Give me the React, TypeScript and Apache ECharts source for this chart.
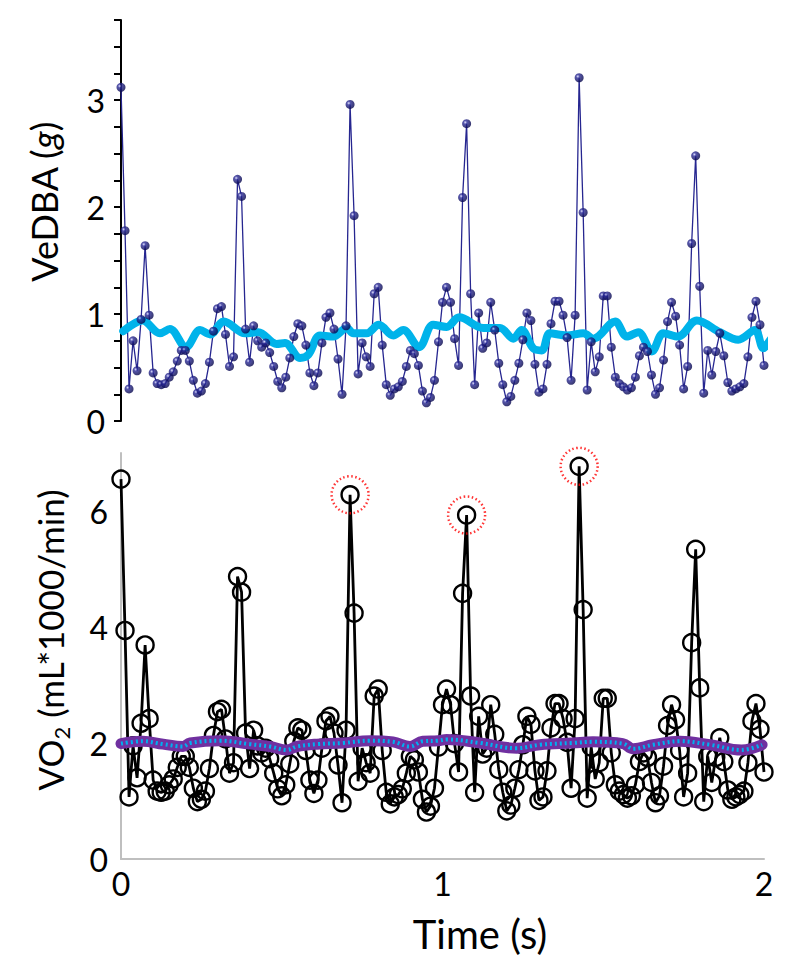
import React, { useEffect, useRef } from "react";
import * as echarts from "echarts";

const SAMPLE_RATE_HZ = 80;
const X_TICK_LABELS = ["0", "1", "2"];

const VEDBA = [
  3.12, 1.78, 0.30, 0.75, 0.47, 0.95, 1.64, 0.99, 0.45, 0.35,
  0.34, 0.35, 0.41, 0.46, 0.56, 0.66, 0.66, 0.56, 0.38, 0.26,
  0.28, 0.35, 0.55, 0.84, 1.05, 1.07, 0.81, 0.51, 0.60, 2.26,
  2.10, 0.86, 0.55, 0.89, 0.75, 0.69, 0.73, 0.64, 0.51, 0.37,
  0.31, 0.41, 0.59, 0.79, 0.91, 0.89, 0.71, 0.45, 0.33, 0.45,
  0.73, 0.97, 1.01, 0.86, 0.58, 0.25, 0.89, 2.96, 1.92, 0.44,
  0.73, 0.60, 0.51, 1.19, 1.25, 0.71, 0.34, 0.24, 0.30, 0.32,
  0.37, 0.51, 0.66, 0.63, 0.52, 0.28, 0.17, 0.22, 0.38, 0.74,
  1.11, 1.25, 1.11, 0.77, 0.52, 2.09, 2.78, 1.19, 0.34, 1.01,
  0.68, 0.73, 1.11, 0.85, 0.54, 0.34, 0.18, 0.23, 0.38, 0.54,
  0.76, 1.01, 0.94, 0.53, 0.27, 0.30, 0.53, 0.91, 1.12, 1.12,
  0.99, 0.78, 0.38, 0.99, 3.21, 1.95, 0.29, 0.74, 0.46, 0.60,
  1.17, 1.17, 0.69, 0.41, 0.35, 0.32, 0.29, 0.31, 0.41, 0.61,
  0.69, 0.65, 0.43, 0.25, 0.31, 0.57, 0.93, 1.11, 0.98, 0.71,
  0.30, 0.51, 1.66, 2.48, 1.26, 0.26, 0.66, 0.43, 0.65, 0.82,
  0.61, 0.36, 0.28, 0.30, 0.32, 0.35, 0.60, 0.97, 1.12, 0.90,
  0.52,
];

const VO2 = [
  6.55, 3.94, 1.07, 1.95, 1.40, 2.34, 3.69, 2.42, 1.36, 1.17,
  1.15, 1.17, 1.28, 1.38, 1.58, 1.77, 1.77, 1.58, 1.22, 0.99,
  1.03, 1.17, 1.56, 2.13, 2.54, 2.58, 2.07, 1.48, 1.66, 4.87,
  4.60, 2.17, 1.56, 2.22, 1.95, 1.83, 1.91, 1.73, 1.48, 1.21,
  1.09, 1.28, 1.64, 2.03, 2.26, 2.22, 1.87, 1.36, 1.13, 1.36,
  1.91, 2.38, 2.46, 2.17, 1.62, 0.97, 2.22, 6.28, 4.24, 1.34,
  1.91, 1.66, 1.48, 2.81, 2.93, 1.87, 1.15, 0.95, 1.07, 1.11,
  1.21, 1.48, 1.77, 1.71, 1.50, 1.03, 0.81, 0.91, 1.22, 1.93,
  2.66, 2.93, 2.66, 1.99, 1.50, 4.58, 5.93, 2.81, 1.15, 2.46,
  1.81, 1.91, 2.66, 2.15, 1.54, 1.15, 0.83, 0.93, 1.22, 1.54,
  1.97, 2.46, 2.32, 1.52, 1.01, 1.07, 1.52, 2.26, 2.68, 2.68,
  2.42, 2.01, 1.22, 2.42, 6.77, 4.30, 1.05, 1.93, 1.38, 1.66,
  2.77, 2.77, 1.83, 1.28, 1.17, 1.11, 1.05, 1.09, 1.28, 1.68,
  1.83, 1.75, 1.32, 0.97, 1.09, 1.60, 2.30, 2.66, 2.40, 1.87,
  1.07, 1.48, 3.73, 5.34, 2.95, 0.99, 1.77, 1.32, 1.75, 2.09,
  1.68, 1.19, 1.03, 1.07, 1.11, 1.17, 1.66, 2.38, 2.68, 2.24,
  1.50,
];

const VEDBA_SMOOTH_T = [
  0.007, 0.067, 0.121, 0.152, 0.202, 0.246, 0.277, 0.320, 0.386, 0.427,
  0.484, 0.510, 0.557, 0.583, 0.619, 0.660, 0.702, 0.723, 0.764, 0.802,
  0.847, 0.878, 0.927, 0.971, 1.013, 1.052, 1.127, 1.179, 1.220, 1.246,
  1.282, 1.309, 1.334, 1.386, 1.438, 1.469, 1.537, 1.573, 1.609, 1.651,
  1.687, 1.733, 1.791, 1.863, 1.920, 1.972, 1.998, 2.029, 2.050,
];
const VEDBA_SMOOTH_V = [
  0.84, 0.94, 0.82, 0.86, 0.69, 0.85, 0.81, 0.93, 0.82, 0.83,
  0.72, 0.73, 0.59, 0.62, 0.80, 0.79, 0.87, 0.82, 0.82, 0.90,
  0.80, 0.85, 0.69, 0.90, 0.88, 0.97, 0.87, 0.87, 0.77, 0.85,
  0.68, 0.66, 0.82, 0.80, 0.82, 0.77, 0.93, 0.79, 0.83, 0.65,
  0.82, 0.79, 0.94, 0.83, 0.76, 0.85, 0.68, 0.79, 0.80,
];

const VO2_SMOOTH_T = [
  0.000, 0.068, 0.131, 0.193, 0.215, 0.308, 0.401, 0.463, 0.516, 0.547,
  0.610, 0.691, 0.774, 0.846, 0.899, 0.939, 0.986, 1.013, 1.117, 1.231,
  1.303, 1.405, 1.468, 1.561, 1.593, 1.655, 1.739, 1.832, 1.930, 1.994,
];
const VO2_SMOOTH_V = [
  1.99, 2.03, 1.98, 1.94, 2.00, 2.04, 1.98, 1.94, 1.88, 1.94,
  1.98, 2.00, 2.04, 2.02, 1.94, 2.03, 2.04, 2.06, 2.00, 1.91,
  1.97, 2.00, 2.02, 1.99, 1.90, 1.97, 2.03, 1.97, 1.88, 1.97,
];

const PEAK_INDEX = [57, 86, 114];

const FONT = "Lato, 'Open Sans', sans-serif";

export default function App() {
  const ref = useRef<HTMLDivElement>(null);

  useEffect(() => {
    document.body.style.margin = "0";
    if (!ref.current) return;
    const chart = echarts.init(ref.current, undefined, { renderer: "svg" });

    const t = (i: number) => i / SAMPLE_RATE_HZ;
    const vedbaPts = VEDBA.map((v, i) => [t(i), v]);
    const vo2Pts = VO2.map((v, i) => [t(i), v]);
    const vedbaSmooth = VEDBA_SMOOTH_T.map((x, i) => [x, VEDBA_SMOOTH_V[i]]);
    const vo2Smooth = VO2_SMOOTH_T.map((x, i) => [x, VO2_SMOOTH_V[i]]);
    const peaks = PEAK_INDEX.map((i) => [t(i), VO2[i]]);

    const ball = new echarts.graphic.RadialGradient(0.35, 0.35, 0.65, [
      { offset: 0, color: "#d8d8ff" },
      { offset: 0.3, color: "#2a2a96" },
      { offset: 1, color: "#08084e" },
    ]);

    chart.setOption({
      animation: false,
      backgroundColor: "#ffffff",
      textStyle: { fontFamily: FONT },
      grid: [
        { left: 121, top: 20, width: 643, height: 401 },
        { left: 121, top: 453, width: 643, height: 406 },
      ],
      xAxis: [
        { gridIndex: 0, type: "value", min: 0, max: 2, show: false },
        {
          gridIndex: 1,
          type: "value",
          min: 0,
          max: 2,
          interval: 1,
          axisLine: { show: true, lineStyle: { color: "#bfbfbf", width: 2 } },
          axisTick: { show: false },
          splitLine: { show: false },
          axisLabel: {
            fontSize: 32,
            color: "#000",
            margin: 8,
            fontFamily: FONT,
            formatter: (v: number) => X_TICK_LABELS[Math.round(v)] ?? "",
          },
        },
      ],
      yAxis: [
        {
          gridIndex: 0,
          type: "value",
          min: 0,
          max: 3.75,
          interval: 0.25,
          axisLine: { show: true, lineStyle: { color: "#000", width: 2 } },
          axisTick: { show: true, length: 7, lineStyle: { color: "#000", width: 2 } },
          splitLine: { show: false },
          axisLabel: {
            fontSize: 32,
            color: "#000",
            margin: 16,
            fontFamily: FONT,
            formatter: (v: number) => (Math.abs(v - Math.round(v)) < 1e-6 ? String(Math.round(v)) : ""),
          },
        },
        {
          gridIndex: 1,
          type: "value",
          min: 0,
          max: 7,
          interval: 2,
          axisLine: { show: true, lineStyle: { color: "#bfbfbf", width: 2 } },
          axisTick: { show: false },
          splitLine: { show: false },
          axisLabel: {
            fontSize: 32,
            color: "#000",
            margin: 13,
            fontFamily: FONT,
            showMaxLabel: false,
          },
        },
      ],
      graphic: [
        {
          type: "text",
          x: 44,
          y: 202,
          rotation: Math.PI / 2,
          style: {
            text: "{a|VeDBA (}{b|g}{a|)}",
            align: "center",
            verticalAlign: "middle",
            rich: {
              a: { fontSize: 36, fontFamily: FONT, fill: "#000" },
              b: { fontSize: 36, fontFamily: FONT, fontStyle: "italic", fill: "#000" },
            },
          },
        },
        {
          type: "text",
          x: 50,
          y: 640,
          rotation: Math.PI / 2,
          style: {
            text: "{a|VO}{s|2}{a| (mL*1000/min)}",
            align: "center",
            verticalAlign: "middle",
            rich: {
              a: { fontSize: 35, fontFamily: FONT, fill: "#000", lineHeight: 44, verticalAlign: "middle" },
              s: { fontSize: 22, fontFamily: FONT, fill: "#000", lineHeight: 24, verticalAlign: "bottom" },
            },
          },
        },
        {
          type: "text",
          x: 480,
          y: 934,
          style: {
            text: "Time (s)",
            align: "center",
            verticalAlign: "middle",
            fontSize: 40,
            fontFamily: FONT,
            fill: "#000",
          },
        },
      ],
      series: [
        {
          type: "line",
          xAxisIndex: 0,
          yAxisIndex: 0,
          data: vedbaPts,
          showSymbol: false,
          lineStyle: { color: "#262690", width: 1.3 },
          z: 2,
          silent: true,
        },
        {
          type: "line",
          xAxisIndex: 0,
          yAxisIndex: 0,
          data: vedbaSmooth,
          showSymbol: false,
          smooth: 0.35,
          clip: false,
          lineStyle: { color: "#00b3ea", width: 8, cap: "round", join: "round" },
          z: 3,
          silent: true,
        },
        {
          type: "scatter",
          xAxisIndex: 0,
          yAxisIndex: 0,
          data: vedbaPts,
          symbol: "circle",
          symbolSize: 9,
          itemStyle: { color: ball },
          z: 4,
          silent: true,
        },
        {
          type: "line",
          xAxisIndex: 1,
          yAxisIndex: 1,
          data: vo2Pts,
          symbol: "circle",
          symbolSize: 17,
          showSymbol: true,
          itemStyle: { color: "rgba(0,0,0,0)", borderColor: "#000", borderWidth: 2.4 },
          lineStyle: { color: "#000", width: 2.8 },
          z: 2,
          silent: true,
        },
        {
          type: "line",
          xAxisIndex: 1,
          yAxisIndex: 1,
          data: vo2Smooth,
          showSymbol: false,
          smooth: 0.4,
          lineStyle: { color: "#7030a0", width: 11, cap: "round" },
          z: 3,
          silent: true,
        },
        {
          type: "line",
          xAxisIndex: 1,
          yAxisIndex: 1,
          data: vo2Smooth,
          showSymbol: false,
          smooth: 0.4,
          lineStyle: { color: "#00b0f0", width: 4, type: [2, 3] },
          z: 4,
          silent: true,
        },
        {
          type: "scatter",
          xAxisIndex: 1,
          yAxisIndex: 1,
          data: peaks,
          symbol: "circle",
          symbolSize: 37,
          itemStyle: {
            color: "rgba(0,0,0,0)",
            borderColor: "#ff0000",
            borderWidth: 2.5,
            borderType: [1.5, 2.5],
          },
          z: 5,
          silent: true,
        },
      ],
    });

    return () => chart.dispose();
  }, []);

  return <div ref={ref} style={{ width: 800, height: 971 }} />;
}
